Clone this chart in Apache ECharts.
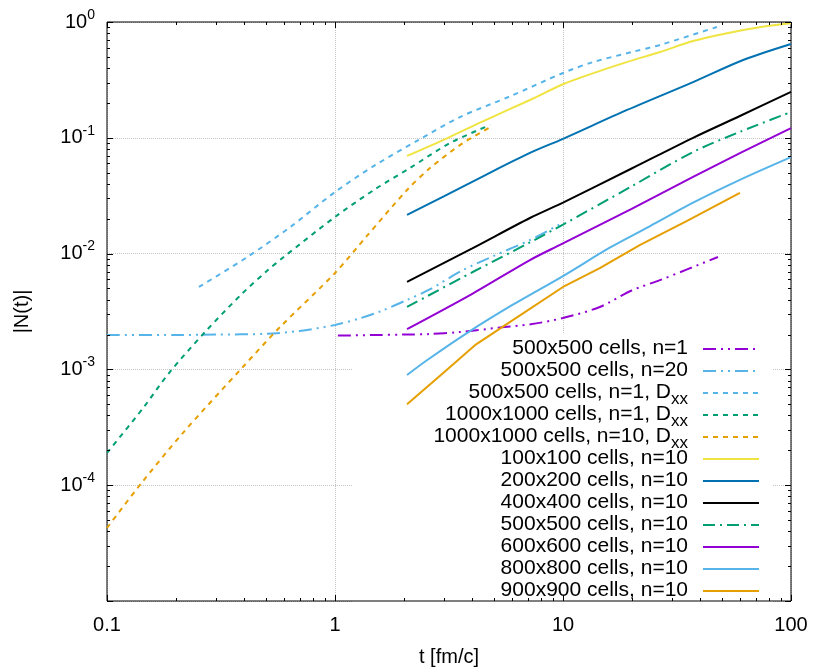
<!DOCTYPE html>
<html>
<head>
<meta charset="utf-8">
<script src="https://cdn.jsdelivr.net/npm/echarts@6.0.0/dist/echarts.min.js"></script>
<style>
html, body { margin: 0; padding: 0; background: #fff; }
#chart { width: 830px; height: 672px; }
</style>
</head>
<body>
<div id="chart"></div>
<script>
// series names, in legend order
var names = [
  '500x500 cells, n=1',
  '500x500 cells, n=20',
  '500x500 cells, n=1, Dxx',
  '1000x1000 cells, n=1, Dxx',
  '1000x1000 cells, n=10, Dxx',
  '100x100 cells, n=10',
  '200x200 cells, n=10',
  '400x400 cells, n=10',
  '500x500 cells, n=10',
  '600x600 cells, n=10',
  '800x800 cells, n=10',
  '900x900 cells, n=10'
];

// values: t [fm/c] and |N(t)|
var t500n1 = [1.03, 1.5, 2.0, 2.6, 3.5, 5.3, 7.2, 10, 14.5, 20, 26.6, 35, 47.8];
var v500n1 = [1.96e-3, 1.98e-3, 2.0e-3, 2.02e-3, 2.1e-3, 2.3e-3, 2.45e-3, 2.78e-3, 3.46e-3, 4.8e-3, 5.9e-3, 7.3e-3, 9.35e-3];

var t500n20 = [0.1, 0.2, 0.3, 0.5, 0.7, 1.0, 1.3, 1.6, 2.07, 2.6, 3.64, 5, 7.16, 10];
var v500n20 = [1.98e-3, 1.98e-3, 2.0e-3, 2.03e-3, 2.15e-3, 2.42e-3, 2.78e-3, 3.2e-3, 3.98e-3, 4.9e-3, 7.2e-3, 9.6e-3, 1.31e-2, 1.85e-2];

var t500dxx = [0.253, 0.411, 0.635, 1.0, 1.5, 2.33, 3.53, 5.86, 10, 13.5, 20, 26.6, 47.3];
var v500dxx = [5.15e-3, 9.3e-3, 0.0169, 0.034, 0.058, 0.096, 0.151, 0.228, 0.363, 0.45, 0.55, 0.633, 0.906];

var t1000n1dxx = [0.1, 0.144, 0.187, 0.269, 0.394, 0.508, 0.59, 1.0, 1.5, 2.13, 3.19, 4.79];
var v1000n1dxx = [1.9e-4, 4.64e-4, 9.3e-4, 2.1e-3, 4.57e-3, 7.2e-3, 9.2e-3, 0.0207, 0.036, 0.0548, 0.090, 0.129];

var t1000n10dxx = [0.1, 0.142, 0.215, 0.391, 0.574, 1.0, 1.38, 2.07, 2.61, 3.64, 4.93];
var v1000n10dxx = [4.27e-5, 1.05e-4, 2.82e-4, 1.03e-3, 2.32e-3, 6.8e-3, 0.0142, 0.0354, 0.0548, 0.090, 0.127];

var t100 = [2.07, 3.13, 4.5, 7.16, 10, 13.5, 19, 26.6, 37.2, 52.4, 75, 100];
var v100 = [0.0697, 0.1, 0.14, 0.212, 0.29, 0.36, 0.45, 0.55, 0.685, 0.80, 0.91, 0.975];

var t200 = [2.07, 3, 4.5, 7.16, 10, 19.1, 37.2, 61.7, 100];
var v200 = [0.0216, 0.0312, 0.047, 0.074, 0.098, 0.174, 0.303, 0.47, 0.646];

var t400 = [2.07, 4, 7.16, 10, 20, 37.2, 60, 100];
var v400 = [5.69e-3, 0.0111, 0.0203, 0.0276, 0.0543, 0.1, 0.155, 0.249];

var t500n10 = [2.07, 4, 7.16, 10, 20, 37.2, 60, 100];
var v500n10 = [3.46e-3, 6.9e-3, 0.0125, 0.0178, 0.0381, 0.0754, 0.113, 0.167];

var t600 = [2.07, 4, 7.16, 9.7, 20, 37.2, 60, 100];
var v600 = [2.23e-3, 4.5e-3, 8.8e-3, 0.0119, 0.0243, 0.046, 0.074, 0.121];

var t800 = [2.07, 2.53, 3.79, 6, 10, 16.1, 24, 37.2, 60, 100];
var v800 = [8.95e-4, 1.2e-3, 2.06e-3, 3.6e-3, 6.4e-3, 0.0113, 0.0172, 0.0275, 0.0435, 0.068];

var t900 = [2.07, 3.0, 4.11, 6, 10, 14.5, 21.8, 35, 59.7];
var v900 = [5.0e-4, 9.4e-4, 1.62e-3, 2.65e-3, 5.15e-3, 7.5e-3, 0.0119, 0.0192, 0.0334];

// axis ticks
var xMajor = [0.1, 1, 10, 100];
var xLabels = ['0.1', '1', '10', '100'];
var yMajor = [1e-5, 1e-4, 1e-3, 1e-2, 1e-1, 1];
var yExponents = ['-5', '-4', '-3', '-2', '-1', '0'];
var minorSteps = [2, 3, 4, 5, 6, 7, 8, 9];
var xDecades = [0.1, 1, 10];
var yDecades = [1e-5, 1e-4, 1e-3, 1e-2, 1e-1];

var colors = ['#9400d3', '#56b4e9', '#56b4e9', '#009e73', '#e69f00', '#f0e442',
              '#0072b2', '#000000', '#009e73', '#9400d3', '#56b4e9', '#e69f00'];

var dashDotDot = [13, 5, 2, 5, 2, 5];
var dotted = [5, 5];
var dashDot = [12, 5, 2, 5];
var dashes = [dashDotDot, dashDotDot, dotted, dotted, dotted, 'solid', 'solid', 'solid', dashDot, 'solid', 'solid', 'solid'];
var smoothing = [0.3, 0.3, 0.3, 0.3, 0.3, 0.3, 0.3, 0.3, 0.3, 0.3, 0.3, 0];

var tVals = [t500n1, t500n20, t500dxx, t1000n1dxx, t1000n10dxx, t100, t200, t400, t500n10, t600, t800, t900];
var nVals = [v500n1, v500n20, v500dxx, v1000n1dxx, v1000n10dxx, v100, v200, v400, v500n10, v600, v800, v900];

var font = 'Liberation Sans';

function zip(a, b) {
  var out = [];
  for (var i = 0; i < a.length; i++) out.push([a[i], b[i]]);
  return out;
}

var series = [];
for (var i = 0; i < names.length; i++) {
  series.push({
    name: names[i],
    type: 'line',
    data: zip(tVals[i], nVals[i]),
    symbol: 'none',
    showSymbol: false,
    smooth: smoothing[i],
    z: 3,
    silent: true,
    itemStyle: { color: colors[i] },
    lineStyle: { color: colors[i], width: 2, type: dashes[i], cap: 'butt' }
  });
}

// tick marks on all four sides (major + minor), placed by the axes' own scale
var tickData = [];
xMajor.forEach(function (v) { tickData.push([v, 1, 0, 6]); });
yMajor.forEach(function (v) { tickData.push([1, v, 1, 6]); });
xDecades.forEach(function (d) { minorSteps.forEach(function (k) { tickData.push([k * d, 1, 0, 3]); }); });
yDecades.forEach(function (d) { minorSteps.forEach(function (k) { tickData.push([1, k * d, 1, 3]); }); });

series.push({
  name: 'ticks',
  type: 'custom',
  silent: true,
  z: 4,
  data: tickData,
  encode: { x: 0, y: 1 },
  renderItem: function (params, api) {
    var r = params.coordSys;
    var kind = api.value(2), len = api.value(3);
    var pt = api.coord([api.value(0), api.value(1)]);
    var st = { stroke: '#000', lineWidth: 1 };
    if (kind === 0) {
      var x = Math.round(pt[0]) + 0.5;
      return { type: 'group', children: [
        { type: 'line', shape: { x1: x, y1: r.y + r.height, x2: x, y2: r.y + r.height - len }, style: st },
        { type: 'line', shape: { x1: x, y1: r.y, x2: x, y2: r.y + len }, style: st }
      ] };
    }
    var y = Math.round(pt[1]) + 0.5;
    return { type: 'group', children: [
      { type: 'line', shape: { x1: r.x, y1: y, x2: r.x + len, y2: y }, style: st },
      { type: 'line', shape: { x1: r.x + r.width, y1: y, x2: r.x + r.width - len, y2: y }, style: st }
    ] };
  }
});

var subStyle = { width: 17, align: 'right', fontSize: 17, fontFamily: font, color: '#000', lineHeight: 22, padding: [9, 0, 0, 0], verticalAlign: 'top' };

var chart = echarts.init(document.getElementById('chart'));
chart.setOption({
  animation: false,
  backgroundColor: '#fff',
  textStyle: { fontFamily: font, color: '#000' },
  grid: { left: 107, right: 39, top: 22, bottom: 71, show: true, z: 2, borderColor: '#000', borderWidth: 1 },
  xAxis: {
    type: 'log', logBase: 10, min: 0.1, max: 100,
    name: 't [fm/c]', nameLocation: 'middle', nameGap: 46,
    nameTextStyle: { fontSize: 20, fontFamily: font, color: '#000' },
    axisLine: { show: false },
    axisTick: { show: false },
    splitLine: { show: true, lineStyle: { color: '#c4c4c4', width: 1, type: 'dotted' } },
    axisLabel: {
      fontSize: 20, fontFamily: font, color: '#000', margin: 14,
      formatter: function (v) {
        for (var i = 0; i < xMajor.length; i++) if (Math.abs(v / xMajor[i] - 1) < 1e-6) return xLabels[i];
        return '';
      }
    }
  },
  yAxis: {
    type: 'log', logBase: 10, min: 1e-5, max: 1,
    name: '|N(t)|', nameLocation: 'middle', nameGap: 75,
    nameTextStyle: { fontSize: 20, fontFamily: font, color: '#000' },
    axisLine: { show: false },
    axisTick: { show: false },
    splitLine: { show: true, lineStyle: { color: '#c4c4c4', width: 1, type: 'dotted' } },
    axisLabel: {
      margin: 12, color: '#000',
      formatter: function (v) {
        for (var i = 0; i < yMajor.length; i++) {
          if (Math.abs(v / yMajor[i] - 1) < 1e-6) {
            if (i === 0) return '';
            return '{b|10}{s|' + yExponents[i] + '}';
          }
        }
        return '';
      },
      rich: {
        b: { fontSize: 20, fontFamily: font, color: '#000', lineHeight: 20, verticalAlign: 'bottom' },
        s: { fontSize: 14, fontFamily: font, color: '#000', lineHeight: 14, padding: [0, 0, 10, 0], verticalAlign: 'bottom' }
      }
    }
  },
  legend: {
    data: names,
    orient: 'vertical',
    left: 352,
    top: 334,
    z: 1,
    align: 'right',
    selectedMode: false,
    backgroundColor: '#fff',
    padding: [4, 13, 0, 0],
    itemGap: -4,
    itemWidth: 56,
    itemHeight: 14,
    lineStyle: { width: 2 },
    itemStyle: { opacity: 0, borderWidth: 0, color: 'rgba(0,0,0,0)' },
    formatter: function (name) {
      if (name.slice(-3) === 'Dxx') return '{d|' + name.slice(0, -2) + '}{s|xx}';
      return '{h|xx}{d|' + name + '}';
    },
    textStyle: {
      padding: [0, 10, 0, 0],
      fontSize: 21, fontFamily: font, color: '#000',
      rich: {
        d: { width: 319, align: 'right', fontSize: 21, fontFamily: font, color: '#000', lineHeight: 22, verticalAlign: 'top' },
        s: subStyle,
        h: echarts.util.extend(echarts.util.clone(subStyle), { align: 'left', color: 'rgba(0,0,0,0)' })
      }
    }
  },
  series: series
});
</script>
</body>
</html>
